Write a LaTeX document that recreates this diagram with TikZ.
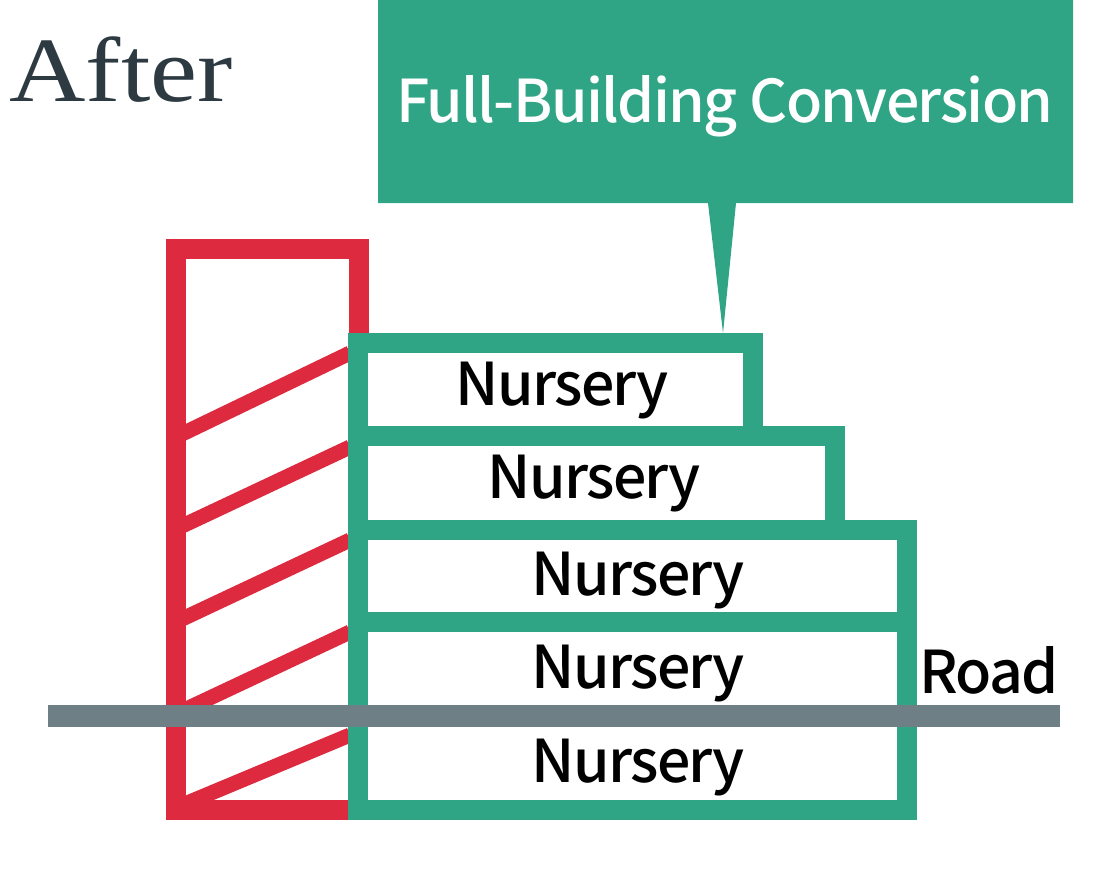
\documentclass[tikz,border=0pt]{standalone}
\usepackage{fontspec}
\setmainfont{Liberation Serif}
\newfontfamily\labelfont{Noto Sans CJK JP Medium}[LetterSpace=-2.7]
\definecolor{wallred}{HTML}{DD2A3F}
\definecolor{floorgreen}{HTML}{2FA585}
\definecolor{roadgrey}{HTML}{6E7F85}
\definecolor{titledark}{HTML}{2E3A42}
\tikzset{
    wall/.style={draw=wallred,line width=20pt},
    brace/.style={draw=wallred,line width=15pt},
    floorline/.style={draw=floorgreen,line width=20pt},
    nursery/.style={anchor=center,font=\labelfont\fontsize{59}{62}\selectfont,text=black,inner sep=0pt},
}
\begin{document}
\begin{tikzpicture}[x=1pt,y=-1pt]
        \useasboundingbox (0,0) rectangle (1120,873);
        %% Title
        \node[anchor=center,text=titledark,inner sep=0pt,xscale=1.15,font=\fontsize{92}{96}\selectfont] (after) at (121,70) {After};
        %% Banner
        \fill[floorgreen] (378,0) -- (1073,0) -- (1073,203) -- (736,203) -- (723,333) -- (708,203) -- (378,203) -- cycle;
        \node[anchor=center,text=white,inner sep=0pt,font=\labelfont\fontsize{59}{62}\selectfont] (banner) at (725,106) {Full-Building Conversion};
        %% Red wall
        \draw[wall] (359,345) -- (359,249) -- (176,249) -- (176,810) -- (350,810);
        \draw[brace] (180,435) -- (350,353);
        \draw[brace] (180,527) -- (350,447);
        \draw[brace] (180,620) -- (350,540);
        \draw[brace] (180,712) -- (350,632);
        \draw[brace] (180,806) -- (350,735);
        %% Green floors
        \draw[floorline] (358,810) -- (358,343) -- (753,343) -- (753,436) -- (835,436) -- (835,530) -- (907,530) -- (907,810) -- cycle;
        \draw[floorline] (358,436) -- (753,436);
        \draw[floorline] (358,530) -- (835,530);
        \draw[floorline] (358,622) -- (907,622);
        %% Road
        \fill[roadgrey] (48,705) rectangle (1060,727);
        \node[nursery] (roadlabel) at (989,670) {Road};
        %% Labels
        \node[nursery] (nurseryA) at (562,391) {Nursery};
        \node[nursery] (nurseryB) at (594,484) {Nursery};
        \node[nursery] (nurseryC) at (638,581) {Nursery};
        \node[nursery] (nurseryD) at (638,674) {Nursery};
        \node[nursery] (nurseryE) at (638,768) {Nursery};
    \end{tikzpicture}
\end{document}
